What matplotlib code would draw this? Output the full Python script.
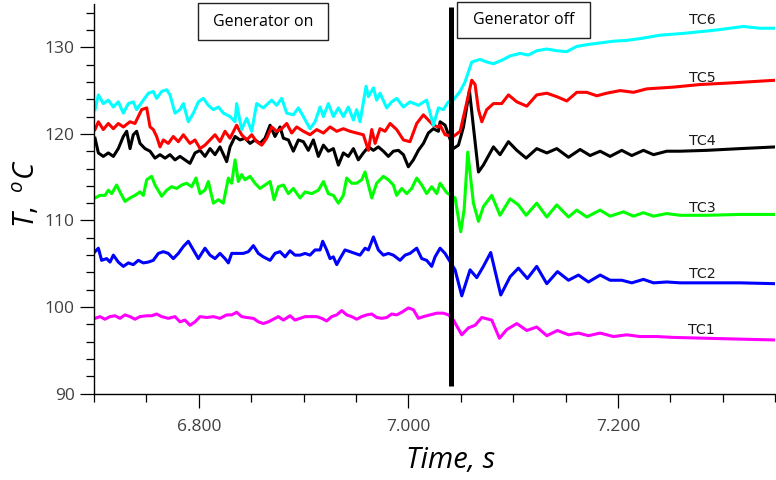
import matplotlib
matplotlib.use("Agg")
import matplotlib.pyplot as plt
from matplotlib.ticker import MultipleLocator, FormatStrFormatter
from matplotlib.patches import Rectangle

plt.rcParams['font.family'] = 'Open Sans'
plt.rcParams['mathtext.fontset'] = 'custom'
plt.rcParams['mathtext.it'] = 'Open Sans:italic'
plt.rcParams['mathtext.rm'] = 'Open Sans'

# thermocouple records: time [s], temperature [deg C]
t_tc1 = [6.7010, 6.7057, 6.7105, 6.7153, 6.7201, 6.7248, 6.7296, 6.7344, 6.7391, 6.7439,
         6.7503, 6.7550, 6.7598, 6.7646, 6.7709, 6.7773, 6.7821, 6.7868, 6.7916, 6.7964,
         6.8012, 6.8075, 6.8139, 6.8202, 6.8266, 6.8314, 6.8361, 6.8409, 6.8457, 6.8521,
         6.8568, 6.8616, 6.8664, 6.8711, 6.8759, 6.8807, 6.8870, 6.8918, 6.8966, 6.9014,
         6.9077, 6.9125, 6.9173, 6.9220, 6.9268, 6.9316, 6.9363, 6.9411, 6.9459, 6.9506,
         6.9554, 6.9602, 6.9650, 6.9697, 6.9745, 6.9793, 6.9840, 6.9888, 6.9936, 6.9999,
         7.0047, 7.0095, 7.0143, 7.0206, 7.0270, 7.0333,
         7.0382, 7.0429, 7.0509, 7.0572, 7.0636, 7.0700, 7.0795, 7.0868, 7.0938, 7.1034,
         7.1129, 7.1224, 7.1320, 7.1422, 7.1527, 7.1622, 7.1717, 7.1829, 7.1956, 7.2083,
         7.2210, 7.2369, 7.2528, 7.2846, 7.3165, 7.3508]
T_tc1 = [98.7, 98.9, 98.6, 98.9, 99.0, 98.7, 99.1, 98.9, 98.6, 98.9,
         99.0, 99.0, 99.2, 98.9, 98.7, 98.9, 98.3, 98.5, 97.9, 98.3,
         98.9, 98.8, 98.9, 98.7, 99.1, 99.1, 99.4, 98.9, 98.8, 98.7,
         98.3, 98.1, 98.3, 98.6, 98.9, 98.5, 99.0, 98.5, 98.7, 98.9,
         98.9, 98.9, 98.7, 98.4, 98.9, 99.1, 99.6, 99.1, 98.9, 98.6,
         98.9, 99.1, 99.2, 98.8, 98.7, 98.8, 99.2, 99.1, 99.4, 99.9,
         99.7, 98.7, 98.9, 99.1, 99.3, 99.3,
         99.1, 98.5, 96.8, 97.6, 97.9, 98.8, 98.5, 96.4, 97.4, 98.1,
         97.3, 97.7, 96.7, 97.3, 96.8, 97.0, 96.7, 97.0, 96.6, 96.8,
         96.6, 96.6, 96.5, 96.4, 96.3, 96.2]

t_tc2 = [6.7010, 6.7042, 6.7073, 6.7121, 6.7153, 6.7185, 6.7232, 6.7280, 6.7328, 6.7375,
         6.7423, 6.7471, 6.7519, 6.7566, 6.7614, 6.7662, 6.7709, 6.7757, 6.7805, 6.7853,
         6.7900, 6.7948, 6.7996, 6.8059, 6.8107, 6.8155, 6.8202, 6.8250, 6.8282, 6.8314,
         6.8361, 6.8425, 6.8473, 6.8521, 6.8568, 6.8616, 6.8680, 6.8727, 6.8775, 6.8823,
         6.8870, 6.8918, 6.8966, 6.9014, 6.9061, 6.9109, 6.9157, 6.9182, 6.9220, 6.9252,
         6.9284, 6.9316, 6.9347, 6.9395, 6.9443, 6.9491, 6.9538, 6.9586, 6.9618, 6.9666,
         6.9713, 6.9761, 6.9809, 6.9856, 6.9920, 6.9968, 7.0015, 7.0079, 7.0127, 7.0174,
         7.0222, 7.0254, 7.0302, 7.0349,
         7.0445, 7.0509, 7.0588, 7.0652, 7.0715, 7.0785, 7.0881, 7.0970, 7.1049, 7.1135,
         7.1224, 7.1320, 7.1422, 7.1527, 7.1622, 7.1717, 7.1829, 7.1924, 7.2035, 7.2131,
         7.2242, 7.2338, 7.2465, 7.2592, 7.2846, 7.3165, 7.3508]
T_tc2 = [106.4, 106.8, 105.4, 105.6, 105.2, 106.0, 105.2, 104.7, 105.1, 104.9,
         105.4, 105.1, 105.2, 105.4, 106.2, 106.4, 106.2, 105.6, 106.2, 107.0,
         107.6, 106.6, 105.6, 106.8, 106.0, 105.6, 106.2, 105.6, 105.1, 106.2,
         106.2, 106.2, 106.4, 107.1, 106.2, 105.8, 105.4, 106.2, 106.4, 105.8,
         106.5, 106.0, 106.0, 106.2, 106.0, 106.6, 106.6, 107.6, 106.6, 105.6,
         105.8, 104.9, 105.6, 106.6, 106.4, 106.2, 106.0, 106.8, 106.6, 108.1,
         106.6, 106.0, 106.2, 106.0, 105.4, 106.0, 106.2, 106.8, 105.6, 105.4,
         104.7, 105.8, 106.8, 106.2,
         104.3, 101.3, 104.3, 103.4, 104.7, 106.3, 101.4, 103.5, 104.5, 103.3,
         104.7, 102.7, 104.1, 103.1, 103.7, 102.9, 103.7, 103.1, 103.1, 102.8,
         103.2, 102.8, 102.9, 102.8, 102.8, 102.8, 102.7]

t_tc3 = [6.7010, 6.7057, 6.7105, 6.7137, 6.7169, 6.7216, 6.7248, 6.7296, 6.7344, 6.7391,
         6.7439, 6.7471, 6.7503, 6.7550, 6.7582, 6.7646, 6.7694, 6.7741, 6.7789, 6.7837,
         6.7884, 6.7932, 6.7973, 6.8012, 6.8059, 6.8091, 6.8139, 6.8187, 6.8234, 6.8282,
         6.8314, 6.8346, 6.8377, 6.8409, 6.8441, 6.8489, 6.8536, 6.8584, 6.8632, 6.8680,
         6.8718, 6.8759, 6.8807, 6.8855, 6.8902, 6.8966, 6.9014, 6.9077, 6.9141, 6.9189,
         6.9236, 6.9284, 6.9332, 6.9379, 6.9411, 6.9459, 6.9506, 6.9554, 6.9586, 6.9618,
         6.9650, 6.9697, 6.9761, 6.9809, 6.9856, 6.9888, 6.9936, 6.9984, 7.0031, 7.0079,
         7.0127, 7.0174, 7.0222, 7.0270, 7.0302, 7.0366,
         7.0445, 7.0499, 7.0531, 7.0566, 7.0620, 7.0668, 7.0715, 7.0795, 7.0874, 7.0970,
         7.1049, 7.1123, 7.1224, 7.1320, 7.1415, 7.1527, 7.1606, 7.1701, 7.1829, 7.1924,
         7.2051, 7.2147, 7.2242, 7.2338, 7.2465, 7.2592, 7.2846, 7.3165, 7.3508]
T_tc3 = [112.6, 112.9, 112.9, 113.5, 113.1, 114.1, 113.3, 112.2, 112.6, 112.9,
         113.3, 112.9, 114.7, 115.1, 114.1, 112.8, 113.5, 113.9, 113.7, 114.1,
         114.3, 113.9, 114.9, 113.1, 113.5, 114.5, 112.0, 112.4, 112.0, 114.9,
         114.3, 117.0, 114.5, 115.3, 114.7, 115.1, 114.3, 113.7, 114.1, 114.5,
         112.4, 113.9, 114.1, 113.1, 113.7, 112.6, 113.3, 113.1, 113.5, 114.5,
         113.1, 112.9, 112.0, 112.9, 114.9, 114.3, 114.3, 114.7, 115.6, 114.1,
         112.6, 114.3, 115.1, 114.7, 114.1, 112.9, 113.7, 113.1, 113.7, 114.9,
         114.1, 113.1, 113.9, 113.1, 114.3, 113.2,
         112.6, 108.7, 111.2, 117.9, 112.0, 109.9, 111.6, 112.9, 110.6, 112.5,
         111.8, 110.6, 112.0, 110.4, 111.8, 110.4, 111.2, 110.4, 111.2, 110.5,
         111.0, 110.5, 110.9, 110.5, 110.8, 110.6, 110.6, 110.7, 110.7]

t_tc4 = [6.7010, 6.7042, 6.7089, 6.7137, 6.7185, 6.7232, 6.7280, 6.7312, 6.7344, 6.7375,
         6.7407, 6.7439, 6.7487, 6.7535, 6.7582, 6.7630, 6.7678, 6.7725, 6.7773, 6.7821,
         6.7868, 6.7916, 6.7964, 6.8012, 6.8059, 6.8107, 6.8155, 6.8202, 6.8266, 6.8298,
         6.8346, 6.8393, 6.8441, 6.8489, 6.8536, 6.8584, 6.8632, 6.8680, 6.8727, 6.8775,
         6.8807, 6.8855, 6.8902, 6.8950, 6.8998, 6.9045, 6.9093, 6.9141, 6.9189, 6.9236,
         6.9284, 6.9332, 6.9379, 6.9427, 6.9475, 6.9522, 6.9570, 6.9618, 6.9666, 6.9713,
         6.9761, 6.9809, 6.9856, 6.9904, 6.9952, 6.9999, 7.0047, 7.0095, 7.0143, 7.0190,
         7.0238, 7.0286, 7.0302,
         7.0350, 7.0429, 7.0477, 7.0525, 7.0582, 7.0620, 7.0668, 7.0715, 7.0811, 7.0874,
         7.0954, 7.1034, 7.1123, 7.1224, 7.1320, 7.1415, 7.1527, 7.1638, 7.1733, 7.1829,
         7.1924, 7.2035, 7.2131, 7.2242, 7.2338, 7.2465, 7.2592, 7.2846, 7.3165, 7.3508]
T_tc4 = [119.5, 117.8, 117.4, 117.8, 117.4, 118.3, 119.7, 120.3, 118.3, 119.9,
         120.3, 118.9, 118.3, 118.0, 117.2, 117.6, 117.2, 117.6, 117.0, 117.4,
         117.0, 116.6, 117.8, 118.1, 117.4, 118.3, 117.6, 118.5, 116.8, 118.5,
         119.7, 119.3, 119.5, 118.9, 119.3, 118.9, 119.5, 121.0, 119.7, 120.8,
         119.5, 119.3, 118.0, 119.3, 119.1, 118.1, 119.3, 117.4, 118.7, 118.0,
         118.3, 116.4, 117.8, 117.4, 118.3, 117.0, 117.8, 118.5, 118.1, 118.5,
         118.0, 117.4, 118.0, 118.1, 117.6, 116.2, 117.0, 118.1, 118.9, 120.1,
         120.6, 120.3, 121.4,
         121.0, 118.3, 118.7, 120.8, 125.0, 120.8, 115.6, 116.4, 118.5, 117.6,
         119.1, 118.1, 117.2, 118.3, 117.8, 118.3, 117.3, 118.2, 117.5, 118.0,
         117.4, 118.1, 117.5, 118.1, 117.6, 118.0, 118.0, 118.1, 118.3, 118.5]

t_tc5 = [6.7010, 6.7042, 6.7089, 6.7137, 6.7185, 6.7232, 6.7280, 6.7344, 6.7391, 6.7455,
         6.7503, 6.7535, 6.7566, 6.7598, 6.7630, 6.7662, 6.7709, 6.7757, 6.7805, 6.7853,
         6.7916, 6.7964, 6.8012, 6.8059, 6.8107, 6.8155, 6.8202, 6.8250, 6.8298, 6.8361,
         6.8409, 6.8457, 6.8505, 6.8552, 6.8600, 6.8648, 6.8695, 6.8743, 6.8791, 6.8839,
         6.8886, 6.8934, 6.8998, 6.9061, 6.9125, 6.9189, 6.9252, 6.9316, 6.9379, 6.9443,
         6.9506, 6.9570, 6.9618, 6.9650, 6.9682, 6.9729, 6.9777, 6.9825, 6.9888, 6.9952,
         7.0015, 7.0079, 7.0143, 7.0190, 7.0238, 7.0286, 7.0302,
         7.0350, 7.0429, 7.0493, 7.0541, 7.0604, 7.0636, 7.0668, 7.0700, 7.0747, 7.0811,
         7.0890, 7.0954, 7.1034, 7.1129, 7.1224, 7.1320, 7.1415, 7.1511, 7.1606, 7.1701,
         7.1797, 7.1892, 7.2020, 7.2147, 7.2274, 7.2401, 7.2528, 7.2782, 7.3097, 7.3508]
T_tc5 = [120.5, 121.4, 120.5, 121.2, 120.6, 121.2, 120.8, 121.4, 121.2, 122.8,
         123.0, 120.8, 120.5, 119.7, 118.5, 119.3, 118.9, 119.7, 119.1, 119.9,
         118.9, 119.3, 118.3, 118.7, 119.3, 119.9, 119.1, 120.3, 119.5, 121.0,
         119.9, 119.3, 119.9, 119.1, 118.7, 119.5, 120.8, 120.3, 120.6, 121.2,
         120.1, 120.8, 120.3, 119.9, 120.5, 120.1, 120.8, 120.3, 120.6, 120.3,
         120.1, 119.9, 118.1, 120.5, 118.9, 120.6, 120.3, 121.2, 120.5, 119.3,
         119.1, 121.2, 122.2, 121.6, 121.0, 120.8, 121.0,
         119.9, 119.7, 120.3, 122.8, 126.2, 125.7, 122.8, 121.4, 122.8, 123.5,
         123.5, 124.5, 123.7, 123.2, 124.5, 124.7, 124.3, 123.8, 124.8, 124.8,
         124.4, 124.7, 125.0, 124.8, 125.2, 125.3, 125.4, 125.7, 125.9, 126.2]

t_tc6 = [6.7010, 6.7042, 6.7089, 6.7137, 6.7185, 6.7232, 6.7280, 6.7328, 6.7375, 6.7407,
         6.7471, 6.7519, 6.7566, 6.7598, 6.7646, 6.7694, 6.7725, 6.7773, 6.7821, 6.7853,
         6.7900, 6.7948, 6.7996, 6.8043, 6.8091, 6.8139, 6.8187, 6.8234, 6.8298, 6.8346,
         6.8361, 6.8409, 6.8457, 6.8505, 6.8552, 6.8616, 6.8695, 6.8743, 6.8791, 6.8839,
         6.8902, 6.8950, 6.8998, 6.9061, 6.9109, 6.9157, 6.9189, 6.9236, 6.9284, 6.9332,
         6.9379, 6.9427, 6.9475, 6.9506, 6.9538, 6.9596, 6.9618, 6.9666, 6.9697, 6.9729,
         6.9793, 6.9840, 6.9888, 6.9952, 7.0015, 7.0095, 7.0174, 7.0238, 7.0286, 7.0333,
         7.0381,
         7.0426, 7.0492, 7.0540, 7.0604, 7.0683, 7.0747, 7.0810, 7.0890, 7.0969, 7.1065,
         7.1144, 7.1224, 7.1320, 7.1415, 7.1510, 7.1606, 7.1701, 7.1828, 7.1955, 7.2083,
         7.2210, 7.2401, 7.2620, 7.2782, 7.2942, 7.3193, 7.3355, 7.3508]
T_tc6 = [122.8, 124.5, 123.5, 123.9, 123.1, 123.7, 122.4, 123.5, 123.7, 122.8,
         123.9, 124.7, 124.9, 124.1, 124.9, 125.1, 124.5, 122.4, 122.8, 123.5,
         121.4, 122.4, 123.7, 124.1, 123.3, 122.8, 123.1, 122.4, 122.0, 121.4,
         123.5, 120.5, 121.8, 120.3, 123.5, 123.0, 123.9, 123.3, 124.1, 122.4,
         122.2, 123.0, 122.0, 120.6, 121.4, 123.1, 122.0, 123.5, 122.0, 123.0,
         122.0, 123.1, 121.6, 122.8, 121.4, 125.5, 124.3, 125.3, 123.9, 124.7,
         123.0, 123.7, 124.1, 123.1, 123.7, 123.3, 123.9, 121.0, 123.0, 122.8,
         123.7,
         123.9, 124.9, 126.0, 128.3, 128.6, 128.3, 128.1, 128.5, 129.0, 129.3,
         129.1, 129.6, 129.8, 129.6, 129.5, 130.1, 130.3, 130.5, 130.7, 130.8,
         131.0, 131.4, 131.6, 131.8, 132.0, 132.4, 132.2, 132.2]

names = ['TC1', 'TC2', 'TC3', 'TC4', 'TC5', 'TC6']
colors = ['#ff00ff', '#0000ff', '#00ff00', '#000000', '#ff0000', '#00ffff']
times = [t_tc1, t_tc2, t_tc3, t_tc4, t_tc5, t_tc6]
temps = [T_tc1, T_tc2, T_tc3, T_tc4, T_tc5, T_tc6]
label_T = [97.4, 103.8, 111.4, 119.2, 126.4, 133.2]

t_off = 7.0407      # generator switched off

fig = plt.figure(figsize=(7.76, 4.80), dpi=100)
ax = fig.add_axes([0.1211, 0.1798, 0.878, 0.8119])

for t, T, c in zip(times, temps, colors):
    ax.plot(t, T, color=c, lw=2.2, solid_joinstyle='round')

for name, T in zip(names, label_T):
    ax.text(7.280, T, name, family='DejaVu Sans', fontsize=10.3, color='#1a1a1a',
            ha='center', va='center')

ax.plot([t_off, t_off], [90.9, 134.7], color='k', lw=3.6, solid_capstyle='butt',
        zorder=10, clip_on=False)

# state boxes
for x0, x1, y0, y1, txt in [(6.7995, 6.9236, 130.84, 135.08, 'Generator on'),
                            (7.0461, 7.1733, 131.04, 135.27, 'Generator off')]:
    ax.add_patch(Rectangle((x0, y0), x1 - x0, y1 - y0, facecolor='white',
                           edgecolor='#222222', lw=1.0, clip_on=False, zorder=11))
    ax.text((x0 + x1) / 2, (y0 + y1) / 2, txt, fontsize=11.5, ha='center',
            va='center', zorder=12)

ax.set_xlim(6.70, 7.35)
ax.set_ylim(90, 135)
ax.xaxis.set_major_locator(MultipleLocator(0.2))
ax.xaxis.set_minor_locator(MultipleLocator(0.05))
ax.xaxis.set_major_formatter(FormatStrFormatter('%.3f'))
ax.yaxis.set_major_locator(MultipleLocator(10))
ax.yaxis.set_minor_locator(MultipleLocator(2))

for s in ['top', 'right']:
    ax.spines[s].set_visible(False)
for s in ['left', 'bottom']:
    ax.spines[s].set_linewidth(1.0)

ax.tick_params(which='major', length=10, width=0.9, labelsize=12.5,
               labelcolor='#404040', direction='out')
ax.tick_params(which='minor', length=5.8, width=0.9, direction='out')
ax.tick_params(axis='x', which='major', pad=8)
ax.tick_params(axis='y', which='major', pad=4)

ax.set_xlabel('Time, s', fontsize=21, fontstyle='italic')
ax.xaxis.set_label_coords(0.523, -0.135)
ax.set_ylabel(r'$T,\ {}^{o}C$', fontsize=21)
ax.yaxis.set_label_coords(-0.076, 0.514)

fig.savefig('out.png', dpi=100)
